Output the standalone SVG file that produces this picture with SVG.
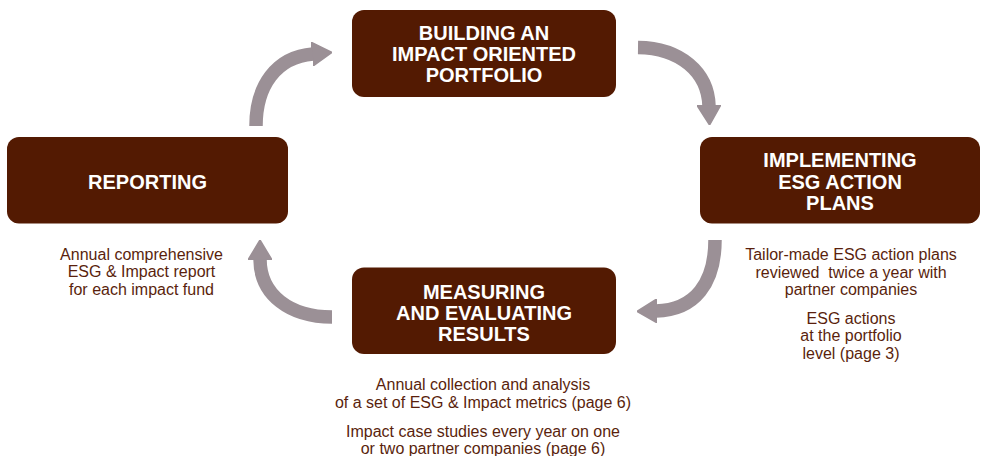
<svg xmlns="http://www.w3.org/2000/svg" width="981" height="456" viewBox="0 0 981 456">
<style>
.box{fill:#531a02}
.t{font-family:"Liberation Sans",Arial,sans-serif;font-weight:bold;font-size:20px;fill:#ffffff;text-anchor:middle}
.c{font-family:"Liberation Sans",Arial,sans-serif;font-size:16px;fill:#5a1f0d;text-anchor:middle}
.a{fill:none;stroke:#9b9096;stroke-width:13.5}
</style>
<defs>
<marker id="head" markerUnits="userSpaceOnUse" viewBox="0 0 20 24" markerWidth="20" markerHeight="24" refX="1" refY="12" orient="auto">
<path d="M0,0 L20,12 L0,24 Z" fill="#9b9096" stroke="#9b9096" stroke-width="1.5" stroke-linejoin="round"/>
</marker>
</defs>
<rect width="981" height="456" fill="#ffffff"/>
<g id="connectors">
<path class="a" d="M256,126 C256,86 276,57 313,54" marker-end="url(#head)"/>
<path class="a" d="M638,47.5 C680,48 708,72 709,106" marker-end="url(#head)"/>
<path class="a" d="M715,240 C715,283 695,310 656,311" marker-end="url(#head)"/>
<path class="a" d="M332,317 C290,317 260,295 260,259" marker-end="url(#head)"/>
</g>
<g id="building">
<rect class="box" x="352" y="10" width="264" height="87" rx="12"/>
<text class="t" x="484" y="39.5">BUILDING AN</text>
<text class="t" x="484" y="61">IMPACT ORIENTED</text>
<text class="t" x="484" y="82">PORTFOLIO</text>
</g>
<g id="implementing">
<rect class="box" x="700" y="137" width="280" height="86.5" rx="12"/>
<text class="t" x="840" y="167">IMPLEMENTING</text>
<text class="t" x="840" y="188.5">ESG ACTION</text>
<text class="t" x="840" y="209.5">PLANS</text>
<text class="c" x="851" y="260">Tailor-made ESG action plans</text>
<text class="c" x="851" y="277.5" xml:space="preserve">reviewed  twice a year with</text>
<text class="c" x="851" y="295">partner companies</text>
<text class="c" x="851" y="323.5">ESG actions</text>
<text class="c" x="851" y="341">at the portfolio</text>
<text class="c" x="851" y="358.5">level (page 3)</text>
</g>
<g id="measuring">
<rect class="box" x="352" y="267.5" width="264" height="86.5" rx="12"/>
<text class="t" x="484" y="298.5">MEASURING</text>
<text class="t" x="484" y="320">AND EVALUATING</text>
<text class="t" x="484" y="341">RESULTS</text>
<text class="c" x="483" y="390">Annual collection and analysis</text>
<text class="c" x="483" y="407.5">of a set of ESG &amp; Impact metrics (page 6)</text>
<text class="c" x="483" y="437">Impact case studies every year on one</text>
<text class="c" x="483" y="454">or two partner companies (page 6)</text>
</g>
<g id="reporting">
<rect class="box" x="7" y="137" width="281" height="86.5" rx="12"/>
<text class="t" x="147.5" y="189">REPORTING</text>
<text class="c" x="141.5" y="259.5">Annual comprehensive</text>
<text class="c" x="141.5" y="277">ESG &amp; Impact report</text>
<text class="c" x="141.5" y="295">for each impact fund</text>
</g>
</svg>
